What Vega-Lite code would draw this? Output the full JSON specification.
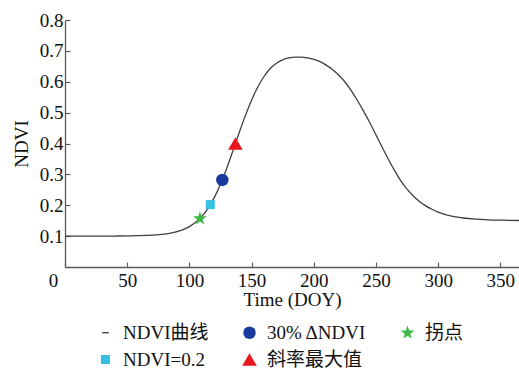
{
  "$schema": "https://vega.github.io/schema/vega-lite/v6.json",
  "width": 454,
  "height": 247,
  "autosize": {"type": "none"},
  "padding": {"left": 65, "top": 20, "right": 0, "bottom": 101},
  "background": "white",
  "config": {
    "view": {"stroke": null},
    "font": "Liberation Serif",
    "axis": {
      "domainColor": "#5a5a5a",
      "domainWidth": 1.3,
      "tickColor": "#5a5a5a",
      "tickWidth": 1.2,
      "tickSize": -5,
      "grid": false,
      "labelOverlap": false,
      "labelFlush": false,
      "labelFont": "Liberation Serif",
      "labelFontSize": 19,
      "labelColor": "#111111",
      "titleFont": "Liberation Serif",
      "titleFontSize": 19,
      "titleFontWeight": "normal",
      "titleColor": "#111111"
    },
    "legend": {
      "labelFont": "Liberation Serif, Noto Sans CJK SC",
      "labelFontSize": 19,
      "labelColor": "#111111",
      "symbolSize": 120,
      "symbolStrokeWidth": 0,
      "labelOffset": 8,
      "columnPadding": 31,
      "rowPadding": 7,
      "padding": 0
    }
  },
  "datasets": {
    "curve": [
      {"doy": 0, "ndvi": 0.1},
      {"doy": 20, "ndvi": 0.1},
      {"doy": 40, "ndvi": 0.1003},
      {"doy": 60, "ndvi": 0.1014},
      {"doy": 70, "ndvi": 0.1031},
      {"doy": 80, "ndvi": 0.1067},
      {"doy": 85, "ndvi": 0.1098},
      {"doy": 90, "ndvi": 0.1145},
      {"doy": 95, "ndvi": 0.1212},
      {"doy": 100, "ndvi": 0.1309},
      {"doy": 105, "ndvi": 0.1447},
      {"doy": 110, "ndvi": 0.1639},
      {"doy": 115, "ndvi": 0.1898},
      {"doy": 120, "ndvi": 0.2246},
      {"doy": 125, "ndvi": 0.2677},
      {"doy": 130, "ndvi": 0.3192},
      {"doy": 135, "ndvi": 0.3761},
      {"doy": 140, "ndvi": 0.4347},
      {"doy": 145, "ndvi": 0.4903},
      {"doy": 150, "ndvi": 0.5404},
      {"doy": 155, "ndvi": 0.583},
      {"doy": 160, "ndvi": 0.617},
      {"doy": 165, "ndvi": 0.643},
      {"doy": 170, "ndvi": 0.66},
      {"doy": 175, "ndvi": 0.671},
      {"doy": 180, "ndvi": 0.677},
      {"doy": 185, "ndvi": 0.6795},
      {"doy": 190, "ndvi": 0.6795},
      {"doy": 195, "ndvi": 0.6772},
      {"doy": 200, "ndvi": 0.6725},
      {"doy": 205, "ndvi": 0.665},
      {"doy": 210, "ndvi": 0.654},
      {"doy": 215, "ndvi": 0.64},
      {"doy": 220, "ndvi": 0.622},
      {"doy": 225, "ndvi": 0.6},
      {"doy": 230, "ndvi": 0.572},
      {"doy": 235, "ndvi": 0.54},
      {"doy": 240, "ndvi": 0.505},
      {"doy": 245, "ndvi": 0.468},
      {"doy": 250, "ndvi": 0.428},
      {"doy": 255, "ndvi": 0.388},
      {"doy": 260, "ndvi": 0.349},
      {"doy": 265, "ndvi": 0.312},
      {"doy": 270, "ndvi": 0.279},
      {"doy": 275, "ndvi": 0.252},
      {"doy": 280, "ndvi": 0.23},
      {"doy": 285, "ndvi": 0.212},
      {"doy": 290, "ndvi": 0.198},
      {"doy": 295, "ndvi": 0.187},
      {"doy": 300, "ndvi": 0.178},
      {"doy": 310, "ndvi": 0.1655},
      {"doy": 320, "ndvi": 0.1587},
      {"doy": 330, "ndvi": 0.1548},
      {"doy": 340, "ndvi": 0.1526},
      {"doy": 350, "ndvi": 0.1515},
      {"doy": 365, "ndvi": 0.1506}
    ],
    "markers": [
      {"series": "拐点", "doy": 108.5, "ndvi": 0.157},
      {"series": "NDVI=0.2", "doy": 116.8, "ndvi": 0.202},
      {"series": "30% ΔNDVI", "doy": 126.5, "ndvi": 0.282},
      {"series": "斜率最大值", "doy": 137, "ndvi": 0.4}
    ]
  },
  "encoding": {
    "x": {
      "field": "doy",
      "type": "quantitative",
      "scale": {"domain": [0, 365], "nice": false},
      "axis": {
        "title": "Time (DOY)",
        "values": [0, 50, 100, 150, 200, 250, 300, 350],
        "labelOverlap": false,
        "labelPadding": 9.5,
        "titlePadding": 0,
        "labelOffset": {"expr": "datum.value == 0 ? -12 : 0"}
      }
    },
    "y": {
      "field": "ndvi",
      "type": "quantitative",
      "scale": {"domain": [0, 0.8], "nice": false},
      "axis": {
        "title": "NDVI",
        "values": [0.1, 0.2, 0.3, 0.4, 0.5, 0.6, 0.7, 0.8],
        "format": ".1f",
        "labelOverlap": false,
        "labelBound": false,
        "labelPadding": 7,
        "titlePadding": 8
      }
    }
  },
  "layer": [
    {
      "data": {"name": "curve"},
      "mark": {"type": "line", "color": "#453d3d", "strokeWidth": 1.3, "interpolate": "monotone"}
    },
    {
      "data": {"name": "markers"},
      "mark": {"type": "point", "filled": true, "opacity": 1, "strokeWidth": 0},
      "encoding": {
        "color": {
          "field": "series",
          "type": "nominal",
          "scale": {
            "domain": ["NDVI曲线", "30% ΔNDVI", "拐点", "NDVI=0.2", "斜率最大值"],
            "range": ["#3d3535", "#1c3a9e", "#3cb849", "#35bfe0", "#e8161e"]
          },
          "legend": {"title": null, "orient": "none", "legendX": 31, "legendY": 303, "direction": "horizontal", "columns": 3}
        },
        "shape": {
          "field": "series",
          "type": "nominal",
          "scale": {
            "domain": ["NDVI曲线", "30% ΔNDVI", "拐点", "NDVI=0.2", "斜率最大值"],
            "range": [
              "M-0.6,-0.12L0.6,-0.12L0.6,0.12L-0.6,0.12Z",
              "circle",
              "M0,-1L0.235,-0.324L0.951,-0.309L0.38,0.124L0.588,0.809L0,0.4L-0.588,0.809L-0.38,0.124L-0.951,-0.309L-0.235,-0.324Z",
              "square",
              "triangle-up"
            ]
          },
          "legend": {"title": null, "orient": "none", "legendX": 31, "legendY": 303, "direction": "horizontal", "columns": 3}
        },
        "size": {
          "field": "series",
          "type": "nominal",
          "scale": {
            "type": "ordinal",
            "domain": ["NDVI曲线", "30% ΔNDVI", "拐点", "NDVI=0.2", "斜率最大值"],
            "range": [120, 156, 210, 81, 215]
          },
          "legend": null
        }
      }
    }
  ]
}
